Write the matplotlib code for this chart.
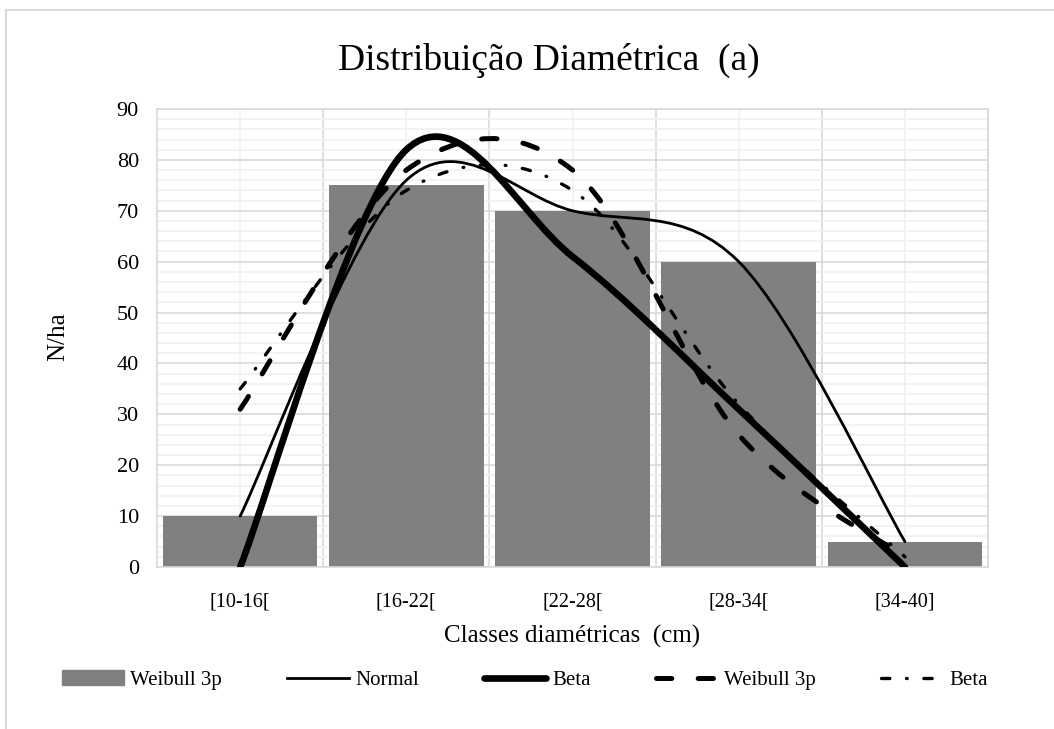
import numpy as np
import matplotlib.pyplot as plt
from matplotlib.path import Path
from matplotlib.patches import PathPatch, Rectangle
from matplotlib.lines import Line2D
from matplotlib.ticker import MultipleLocator

# Dados: número de árvores por hectare em cada classe diamétrica
classes = ['[10-16[', '[16-22[', '[22-28[', '[28-34[', '[34-40]']
observado = [10, 75, 70, 60, 5]
normal = [10, 76, 70, 60, 5]
beta = [0, 82, 61, 31, 0]
weibull = [31, 78, 78, 26, 2]
beta2 = [35, 74, 74, 32, 2]

plt.rcParams['font.family'] = ['Liberation Serif', 'DejaVu Serif']
plt.rcParams['lines.scale_dashes'] = False

GRID_MAJ = '#d9d9d9'
GRID_MIN = '#f0f0f0'
BARRA = '#808080'

TRACO = (0, (11, 19))
TRACO_PONTO = (0, (6, 12, 0.5, 12))


# Curva suavizada (estilo Excel) passando pelos pontos
def curva_suave(xs, ys):
    pts = list(zip(xs, ys))
    n = len(pts)
    verts = [pts[0]]
    codes = [Path.MOVETO]
    for i in range(n - 1):
        p0 = pts[max(i - 1, 0)]
        p1 = pts[i]
        p2 = pts[i + 1]
        p3 = pts[min(i + 2, n - 1)]
        c1 = (p1[0] + (p2[0] - p0[0]) / 6, p1[1] + (p2[1] - p0[1]) / 6)
        c2 = (p2[0] - (p3[0] - p1[0]) / 6, p2[1] - (p3[1] - p1[1]) / 6)
        verts += [c1, c2, p2]
        codes += [Path.CURVE4] * 3
    return Path(verts, codes)


fig = plt.figure(figsize=(10.54, 7.29), dpi=100)
ax = fig.add_axes([0.149, 0.2222, 0.7884, 0.6283])

x = np.arange(len(classes))

# Grade
ax.set_xlim(-0.5, len(classes) - 0.5)
ax.set_ylim(0, 90)
ax.yaxis.set_major_locator(MultipleLocator(10))
ax.yaxis.set_minor_locator(MultipleLocator(2))
ax.grid(axis='y', which='minor', color=GRID_MIN, lw=1.2, zorder=0)
ax.grid(axis='y', which='major', color=GRID_MAJ, lw=1.2, zorder=0)
for k in range(len(classes)):
    ax.axvline(k, color=GRID_MIN, lw=1.2, zorder=0)
    ax.axvline(k + 0.5, color=GRID_MAJ, lw=1.2, zorder=0)

ax.bar(x, observado, width=0.93, color=BARRA, zorder=2)

estilos = [
    (normal, dict(lw=2.0, ls='-')),
    (beta, dict(lw=4.8, ls='-')),
    (weibull, dict(lw=3.6, ls=TRACO)),
    (beta2, dict(lw=2.4, ls=TRACO_PONTO)),
]
for ys, st in estilos:
    ax.add_patch(PathPatch(curva_suave(x, ys), fill=False, edgecolor='black',
                           capstyle='round', joinstyle='round', zorder=3, **st))

ax.set_xticks(x)
ax.set_xticklabels(classes, fontsize=14.5)
ax.tick_params(axis='both', which='both', length=0)
ax.tick_params(axis='x', pad=18)
ax.tick_params(axis='y', labelsize=16, pad=13)
for s in ax.spines.values():
    s.set_color(GRID_MAJ)
    s.set_linewidth(1.2)

fig.text(0.521, 0.917, 'Distribuição Diamétrica  (a)', fontsize=27, ha='center', va='center')
ax.set_xlabel('Classes diamétricas  (cm)', fontsize=18, labelpad=10)
fig.text(0.055, 0.538, 'N/ha', fontsize=18, rotation=90, ha='center', va='center')

# Moldura da área do gráfico
fig.add_artist(Rectangle((0.006, -0.1), 1.2, 1.086, transform=fig.transFigure,
                         fill=False, edgecolor=GRID_MAJ, lw=1.5))

handles = [
    Rectangle((0, 0), 1, 1, color=BARRA),
    Line2D([], [], color='black', lw=2.0),
    Line2D([], [], color='black', lw=4.8, solid_capstyle='round'),
    Line2D([], [], color='black', lw=3.6, ls=TRACO, dash_capstyle='round'),
    Line2D([], [], color='black', lw=2.4, ls=TRACO_PONTO, dash_capstyle='round'),
]
labels = ['Weibull 3p', 'Normal', 'Beta', 'Weibull 3p', 'Beta']
fig.legend(handles, labels, loc='center', bbox_to_anchor=(0.498, 0.067), ncol=5,
           frameon=False, fontsize=15, handlelength=3.0, handletextpad=0.3,
           columnspacing=3.1)

fig.savefig('out.png', dpi=100)
